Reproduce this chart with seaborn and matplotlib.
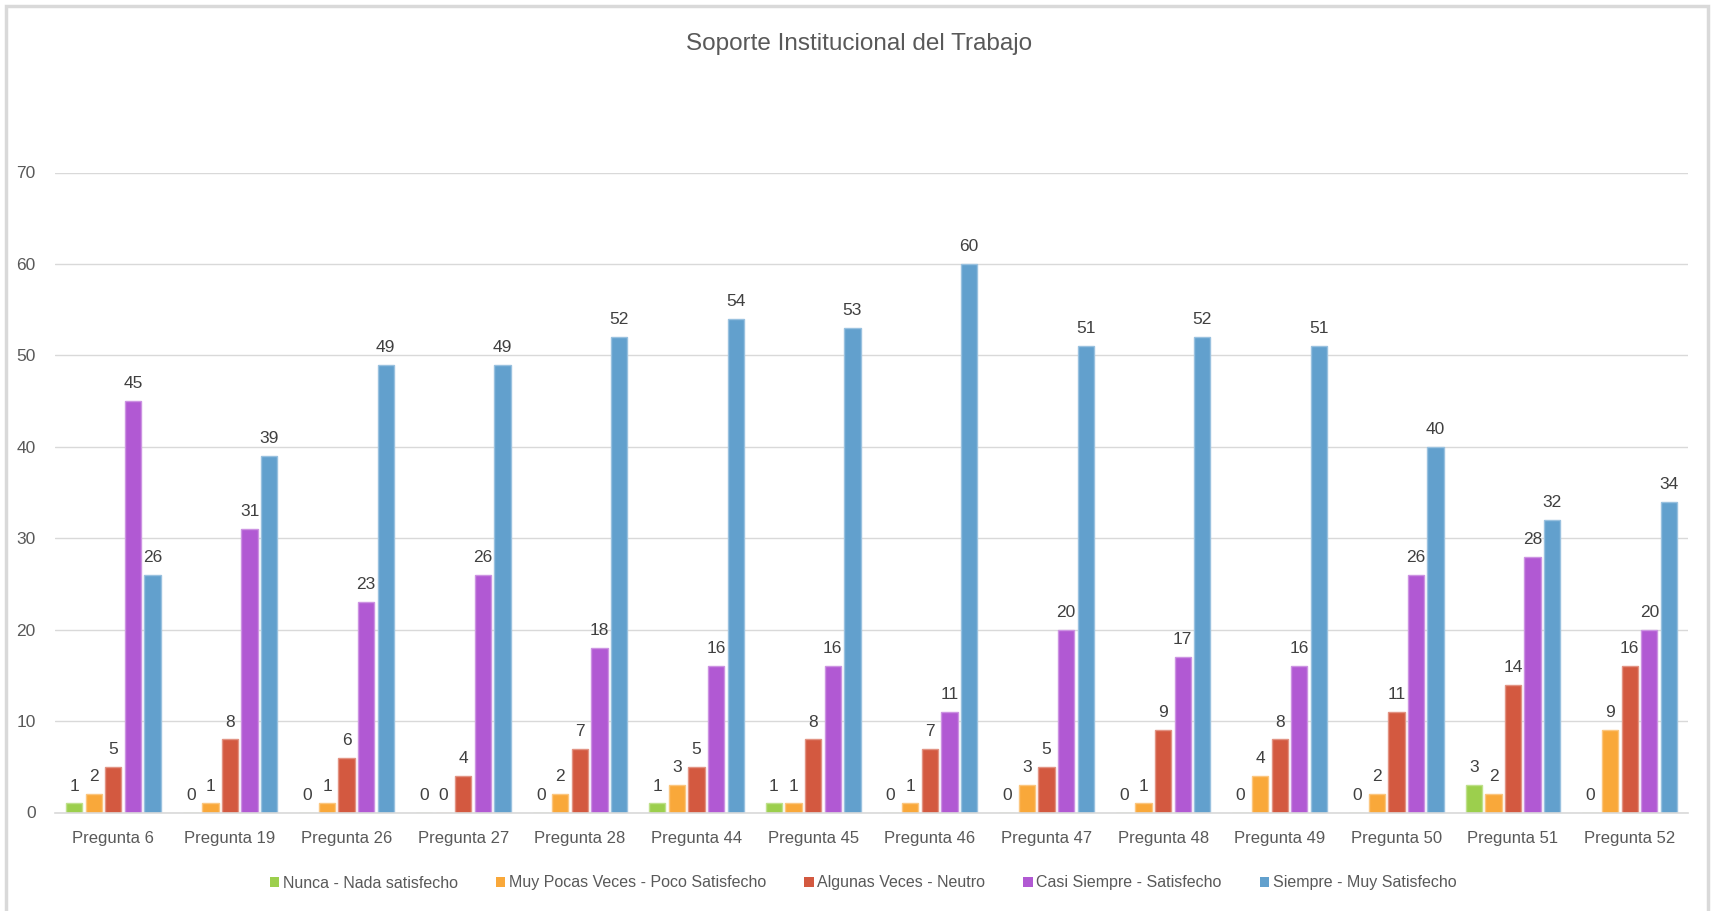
import matplotlib
matplotlib.use("Agg")
import matplotlib.pyplot as plt
import matplotlib.colors as mcolors
import seaborn as sns
import pandas as pd
from matplotlib.patches import Rectangle

# Survey results: counts per answer level for each question
preguntas = ["Pregunta 6", "Pregunta 19", "Pregunta 26", "Pregunta 27", "Pregunta 28",
             "Pregunta 44", "Pregunta 45", "Pregunta 46", "Pregunta 47", "Pregunta 48",
             "Pregunta 49", "Pregunta 50", "Pregunta 51", "Pregunta 52"]
niveles = ["Nunca - Nada satisfecho", "Muy Pocas Veces - Poco Satisfecho",
           "Algunas Veces - Neutro", "Casi Siempre - Satisfecho", "Siempre - Muy Satisfecho"]
nunca = [1, 0, 0, 0, 0, 1, 1, 0, 0, 0, 0, 0, 3, 0]
muy_pocas = [2, 1, 1, 0, 2, 3, 1, 1, 3, 1, 4, 2, 2, 9]
algunas = [5, 8, 6, 4, 7, 5, 8, 7, 5, 9, 8, 11, 14, 16]
casi_siempre = [45, 31, 23, 26, 18, 16, 16, 11, 20, 17, 16, 26, 28, 20]
siempre = [26, 39, 49, 49, 52, 54, 53, 60, 51, 52, 51, 40, 32, 34]
yticks = [0, 10, 20, 30, 40, 50, 60, 70]
titulo = "Soporte Institucional del Trabajo"

colores = ["#9ccf4d", "#f9a83a", "#d35940", "#b159d3", "#62a0cd"]

series = [nunca, muy_pocas, algunas, casi_siempre, siempre]
df = pd.DataFrame(
    [(p, n, v) for n, vals in zip(niveles, series) for p, v in zip(preguntas, vals)],
    columns=["pregunta", "nivel", "valor"],
)

sns.set_theme(style="white")
plt.rcParams["font.family"] = ["Liberation Sans", "DejaVu Sans"]

fig = plt.figure(figsize=(17.12, 9.11), dpi=100)
ax = fig.add_axes([55 / 1712, 1 - 812.5 / 911, (1688 - 55) / 1712, (812.5 - 172.5) / 911])

sns.barplot(data=df, x="pregunta", y="valor", hue="nivel", order=preguntas,
            hue_order=niveles, palette=colores, width=0.84, gap=0.17,
            saturation=1, ax=ax, legend=False)

# lighter outline on each bar
for cont, col in zip(ax.containers, colores):
    light = [c + (1 - c) * 0.35 for c in mcolors.to_rgb(col)]
    for bar in cont:
        bar.set_edgecolor(light)
        bar.set_linewidth(1.0)
    ax.bar_label(cont, labels=[str(int(v)) for v in cont.datavalues], padding=7,
                 fontsize=12.5, color="#404040")

ax.set_ylim(0, 70)
ax.set_xlim(-0.5, len(preguntas) - 0.5)
ax.set_yticks(yticks)
ax.set_yticklabels([str(t) for t in yticks], fontsize=12.5, color="#595959")
ax.yaxis.grid(True, color="#d9d9d9", linewidth=1)
ax.set_axisbelow(True)
ax.set_xlabel("")
ax.set_ylabel("")
ax.tick_params(axis="y", length=0, pad=14)

# category labels centred, tick marks on the boundaries
ax.set_xticks(range(len(preguntas)))
ax.set_xticklabels(preguntas, fontsize=12, color="#595959")
ax.tick_params(axis="x", length=0, pad=13)
ax.set_xticks([i - 0.5 for i in range(len(preguntas) + 1)], minor=True)
ax.tick_params(axis="x", which="minor", length=7, width=1, color="#d9d9d9")

for s in ["left", "right", "top"]:
    ax.spines[s].set_visible(False)
ax.spines["bottom"].set_color("#d9d9d9")
ax.spines["bottom"].set_linewidth(1.2)

fig.text(859 / 1712, 1 - 44 / 911, titulo, ha="center", va="center",
         fontsize=17.5, color="#595959")

handles = [Rectangle((0, 0), 1, 1, facecolor=c, edgecolor="none") for c in colores]
fig.legend(handles, niveles, loc="center", bbox_to_anchor=(863 / 1712, 1 - 883 / 911),
           ncol=5, frameon=False, fontsize=11.5, labelcolor="#595959",
           handlelength=0.6, handleheight=0.6, handletextpad=0.2, columnspacing=2.4)

# outer chart frame
frame = Rectangle((6 / 1712, -0.05), (1708 - 6) / 1712, 1 - 6 / 911 + 0.05,
                  transform=fig.transFigure, fill=False, edgecolor="#d9d9d9",
                  linewidth=2.5)
fig.patches.append(frame)

fig.savefig("out.png", dpi=100)
